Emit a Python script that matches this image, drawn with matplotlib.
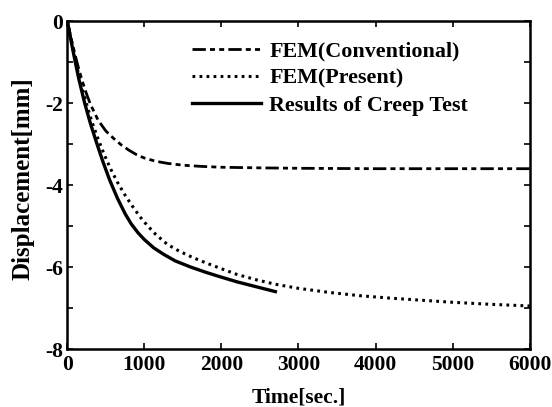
import matplotlib
matplotlib.use("Agg")
import matplotlib.pyplot as plt
from matplotlib.ticker import MultipleLocator

# Data
t_conv = [0, 50, 100, 150, 200, 250, 300, 400, 500, 600, 700, 800, 900, 1000, 1150, 1300, 1500, 1750, 2000, 2500, 3000, 4000, 5000, 6000]
d_conv = [0, -0.42, -0.82, -1.18, -1.5, -1.78, -2.03, -2.42, -2.68, -2.86, -3.02, -3.15, -3.26, -3.34, -3.42, -3.47, -3.515, -3.545, -3.565, -3.58, -3.59, -3.6, -3.6, -3.6]

t_present = [0, 50, 100, 150, 200, 250, 320, 400, 480, 560, 650, 750, 850, 950, 1030, 1150, 1300, 1450, 1620, 1800, 1970, 2200, 2450, 2700, 3000, 3400, 3800, 4200, 4600, 5000, 5500, 6000]
d_present = [0, -0.47, -0.92, -1.33, -1.7, -2.03, -2.46, -2.88, -3.26, -3.6, -3.93, -4.25, -4.53, -4.79, -4.97, -5.21, -5.45, -5.61, -5.76, -5.9, -6.02, -6.18, -6.31, -6.42, -6.52, -6.62, -6.7, -6.76, -6.81, -6.86, -6.91, -6.95]

t_test = [0, 50, 100, 150, 225, 300, 380, 460, 550, 650, 750, 830, 920, 1000, 1120, 1250, 1400, 1600, 1800, 1970, 2200, 2450, 2700]
d_test = [0, -0.5, -0.97, -1.42, -2.0, -2.5, -2.97, -3.42, -3.88, -4.32, -4.7, -4.95, -5.17, -5.33, -5.53, -5.69, -5.85, -6.0, -6.13, -6.23, -6.36, -6.48, -6.6]

labels = ["FEM(Conventional)", "FEM(Present)", "Results of Creep Test"]
xticks = [0, 1000, 2000, 3000, 4000, 5000, 6000]
yticks = [0, -2, -4, -6, -8]

plt.rcParams['font.family'] = ['Liberation Serif', 'DejaVu Serif']
plt.rcParams['font.weight'] = 'bold'
plt.rcParams['axes.unicode_minus'] = False

fig = plt.figure(figsize=(5.52, 4.07), dpi=100)
ax = fig.add_axes([0.122, 0.1425, 0.8375, 0.8055])

ax.plot(t_conv, d_conv, color='black', lw=2.0,
        linestyle=(0, (4.8, 1.5, 1.8, 1.5, 1.8, 1.5)), label=labels[0])
ax.plot(t_present, d_present, color='black', lw=2.2,
        linestyle=(0, (0.9, 1.4)), label=labels[1])
ax.plot(t_test, d_test, color='black', lw=2.4, linestyle='-', label=labels[2])

ax.set_xlim(0, 6000)
ax.set_ylim(-8, 0)
ax.set_xticks(xticks)
ax.set_yticks(yticks)
ax.yaxis.set_minor_locator(MultipleLocator(1))
ax.tick_params(which='both', direction='in', top=True, right=True,
               length=4, width=1.2, labelsize=15.5)
ax.tick_params(axis='x', pad=4.5)
ax.tick_params(axis='y', pad=3)
for lab in ax.get_xticklabels() + ax.get_yticklabels():
    lab.set_fontweight('bold')
for s in ax.spines.values():
    s.set_linewidth(1.8)

ax.set_xlabel("Time[sec.]", fontsize=15.5, fontweight='bold', labelpad=9)
ax.set_ylabel("Displacement[mm]", fontsize=18, fontweight='bold')
ax.yaxis.set_label_coords(-0.072, 0.52)

leg = ax.legend(loc='upper left', bbox_to_anchor=(0.27, 0.94), frameon=False,
                borderaxespad=0, borderpad=0,
                handlelength=3.15, handletextpad=0.37,
                labelspacing=0.31, prop={'weight': 'bold', 'size': 15.8})

fig.savefig("out.png", dpi=100)
